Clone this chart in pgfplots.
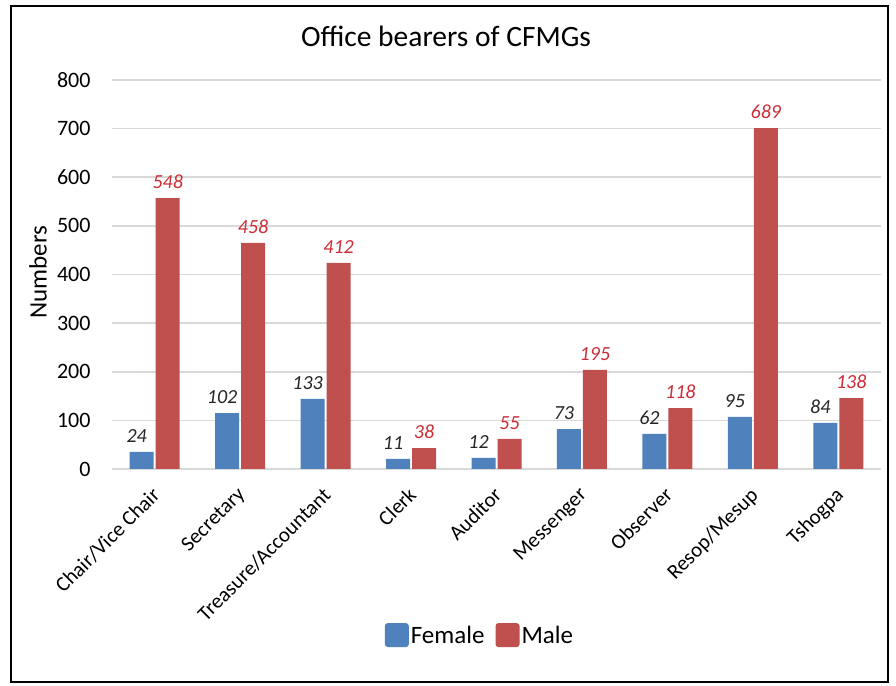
\documentclass[border=0pt]{standalone}
\usepackage{fontspec}
\setmainfont{Carlito}
\usepackage{pgfplots}
\usepackage{pgfplotstable}
\pgfplotsset{compat=1.18}
\definecolor{fblue}{HTML}{4F81BD}
\definecolor{mred}{HTML}{C0504D}
\definecolor{lred}{RGB}{205,45,55}
\definecolor{gridc}{HTML}{D9D9D9}
\pgfplotstableread{
x fbar flab mbar mlab
0 35 24 557 548
1 115 102 465 458
2 144 133 424 412
3 21 11 43 38
4 23 12 62 55
5 82 73 204 195
6 72 62 125 118
7 107 95 701 689
8 95 84 146 138
}\data
\begin{document}
\begin{tikzpicture}[x=1bp,y=1bp]
\fill[white] (0,0) rectangle (896,686);
\draw[black,line width=2bp] (11,4) rectangle (888,680);
\node[font=\fontsize{29.5bp}{32bp}\selectfont] at (446,650) {Office bearers of CFMGs};
\node[rotate=90,font=\fontsize{25bp}{28bp}\selectfont] at (38,414) {Numbers};
\begin{axis}[
  at={(112bp,217bp)}, anchor=south west,
  scale only axis, width=769bp, height=389bp,
  ybar, bar width=24bp,
  xmin=-0.5, xmax=8.5, ymin=0, ymax=800,
  ytick={0,100,...,800},
  xtick={0,...,8},
  xticklabels={Chair/Vice Chair,Secretary,Treasure/Accountant,Clerk,Auditor,Messenger,Observer,Resop/Mesup,Tshogpa},
  axis line style={draw=none},
  major tick length=0pt,
  ymajorgrids, grid style={gridc,line width=1.6bp},
  /pgf/number format/assume math mode=true,
  yticklabel style={font=\fontsize{22bp}{24bp}\selectfont, xshift=-18bp},
  xticklabel style={font=\fontsize{21bp}{23bp}\selectfont, xshift=-4bp, yshift=-14bp, rotate=45, anchor=north east, inner sep=2bp},
  nodes near coords,
  point meta=explicit,
  nodes near coords style={font=\fontsize{20bp}{22bp}\selectfont\itshape, anchor=south, yshift=6bp},
  legend style={at={(0.4785,-0.427)}, anchor=center, draw=none, fill=none, legend columns=2,
     font=\fontsize{25bp}{27bp}\selectfont, inner sep=0pt,
     /tikz/every even column/.append style={column sep=9bp},
     nodes={inner xsep=2bp}},
  legend image code/.code={\fill[#1, rounded corners=3bp] (0bp,-12bp) rectangle (24bp,12bp);},
]
\addplot[fill=fblue, draw=none, nodes near coords style={text=black!85, xshift=-5bp}] table[x=x, y=fbar, meta=flab] {\data};
\addplot[fill=mred, draw=none, nodes near coords style={text=lred}] table[x=x, y=mbar, meta=mlab] {\data};
\legend{Female,Male}
\end{axis}
\end{tikzpicture}
\end{document}
